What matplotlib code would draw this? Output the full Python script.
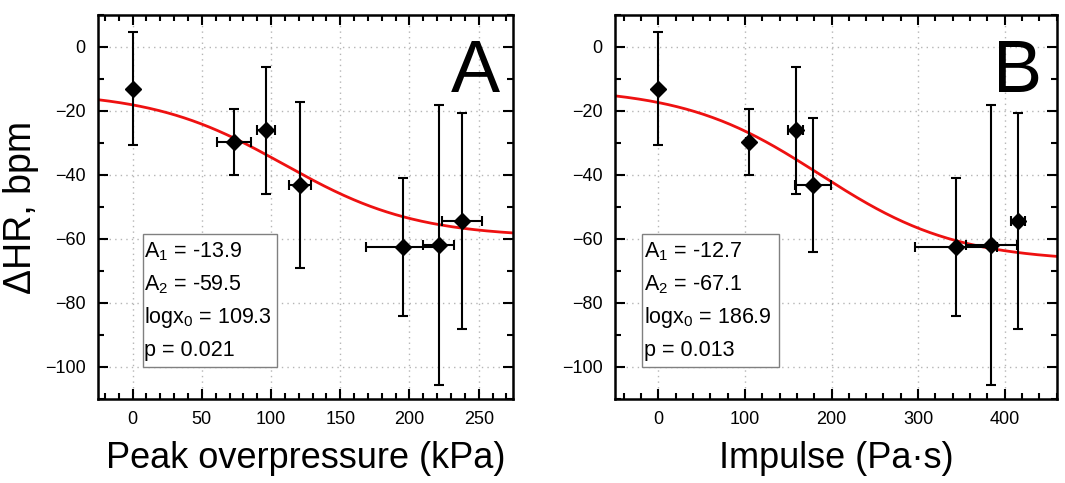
import numpy as np
import matplotlib
matplotlib.use("Agg")
import matplotlib.pyplot as plt
from matplotlib.patches import Rectangle
from matplotlib.ticker import MultipleLocator

plt.rcParams['font.family'] = ['Liberation Sans', 'DejaVu Sans']
plt.rcParams['mathtext.fontset'] = 'custom'
plt.rcParams['mathtext.rm'] = 'Liberation Sans'
plt.rcParams['mathtext.it'] = 'Liberation Sans:italic'

# ---- data ----
dhr = [-13.0, -29.7, -26.1, -43.1, -62.6, -61.8, -54.3]
dhr_err = [17.6, 10.4, 19.8, 25.9, 21.5, 43.8, 33.8]
dhr_err_b = [17.6, 10.4, 19.8, 21.0, 21.5, 43.8, 33.8]

pressure = [0, 73.2, 96.6, 120.8, 195.2, 221.0, 237.9]
pressure_err = [0, 12.4, 6.6, 7.8, 26.7, 11.4, 14.7]

impulse = [0, 104.8, 158.5, 178.5, 343.6, 384.6, 415.4]
impulse_err = [0, 3.0, 8.6, 20.5, 47.0, 29.0, 8.0]

# dose-response fit parameters (A1, A2, logx0, hill slope), p value
fit_a = (-13.9, -59.5, 109.3, 0.0091)
fit_b = (-12.7, -67.1, 186.9, 0.0055)
pval_a = "0.021"
pval_b = "0.013"


def doseresp(x, A1, A2, x0, p):
    return A1 + (A2 - A1) / (1 + 10 ** ((x0 - x) * p))


fig = plt.figure(figsize=(10.65, 4.83), dpi=100)
axA = fig.add_axes([0.092, 0.174, 0.390, 0.795])
axB = fig.add_axes([0.5775, 0.174, 0.4147, 0.795])


def panel(ax, x, xerr, y, yerr, fit, pval, xlim, xmaj, xmin, letter, box, txt_x):
    ax.set_xlim(*xlim)
    ax.set_ylim(-110, 10)
    ax.xaxis.set_major_locator(MultipleLocator(xmaj))
    ax.xaxis.set_minor_locator(MultipleLocator(xmin))
    ax.yaxis.set_major_locator(MultipleLocator(20))
    ax.yaxis.set_minor_locator(MultipleLocator(10))
    ax.grid(True, which='major', linestyle=(0, (1, 3)), color='#b5b5b5', linewidth=1.0)
    ax.set_axisbelow(True)
    ax.tick_params(which='both', direction='in', top=True, right=True,
                   width=1.5, labelsize=13, pad=9)
    ax.tick_params(which='major', length=7.5)
    ax.tick_params(which='minor', length=4)
    for s in ax.spines.values():
        s.set_linewidth(1.8)

    xs = np.linspace(xlim[0], xlim[1], 300)
    ax.plot(xs, doseresp(xs, *fit), color='#ee1111', linewidth=2.0, zorder=2)
    ax.errorbar(x, y, yerr=yerr, xerr=xerr, fmt='D', color='black', markersize=8,
                elinewidth=1.5, capsize=3.5, capthick=1.5, zorder=3)

    ax.text(0.968, 0.80, letter, transform=ax.transAxes, fontsize=53,
            ha='right', va='baseline')

    ax.add_patch(Rectangle((box[0], 0.084), box[1] - box[0], 0.345,
                           transform=ax.transAxes, facecolor='white',
                           edgecolor='#808080', linewidth=1.0, zorder=4))
    lines = [r"A$_\mathrm{1}$ = %.1f" % fit[0],
             r"A$_\mathrm{2}$ = %.1f" % fit[1],
             r"logx$_\mathrm{0}$ = %.1f" % fit[2],
             "p = " + pval]
    for i, t in enumerate(lines):
        ax.text(txt_x, 0.384 - i * 0.086, t, transform=ax.transAxes,
                fontsize=15.5, ha='left', va='center', zorder=5)


panel(axA, pressure, pressure_err, dhr, dhr_err, fit_a, pval_a,
      (-25, 275), 50, 10, "A", (0.108, 0.431), 0.110)
panel(axB, impulse, impulse_err, dhr, dhr_err_b, fit_b, pval_b,
      (-50, 460), 100, 20, "B", (0.062, 0.371), 0.065)

axA.set_xlabel("Peak overpressure (kPa)", fontsize=26, labelpad=9)
axB.set_xlabel("Impulse (Pa·s)", fontsize=26, labelpad=9)
axA.set_ylabel("ΔHR, bpm", fontsize=27, labelpad=4)

fig.savefig("out.png", dpi=100)
